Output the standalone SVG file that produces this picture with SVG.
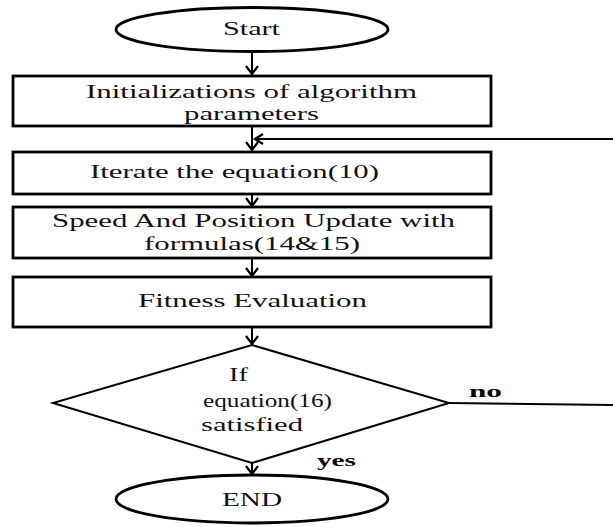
<svg xmlns="http://www.w3.org/2000/svg" width="613" height="527" viewBox="0 0 613 527">
  <style>
    .shape { fill: #ffffff; stroke: #000000; stroke-width: 2.8; }
    .thin { fill: #ffffff; stroke: #000000; stroke-width: 2; }
    text { font-family: "Liberation Serif", "Times New Roman", Times, "DejaVu Serif", "Noto Serif", serif; fill: #111111; }
    .label { font-size: 18px; }
    .tag { font-size: 17px; font-weight: bold; fill: #000000; }
    .wire { fill: none; stroke: #000000; stroke-width: 2; }
    .head { fill: none; stroke: #000000; stroke-width: 2.2; stroke-linejoin: miter; }
  </style>
  <rect width="613" height="527" fill="#ffffff"/>

  <g id="start">
    <ellipse class="shape" cx="252" cy="29.5" rx="136" ry="22"/>
    <text class="label" x="223" y="35" textLength="57" lengthAdjust="spacingAndGlyphs">Start</text>
  </g>

  <g id="init">
    <rect class="shape" x="13" y="76" width="478" height="50"/>
    <text class="label" x="86" y="98" textLength="331" lengthAdjust="spacingAndGlyphs">Initializations of algorithm</text>
    <text class="label" x="184" y="120" textLength="135" lengthAdjust="spacingAndGlyphs">parameters</text>
  </g>

  <g id="iterate">
    <rect class="shape" x="13" y="152" width="478" height="42"/>
    <text class="label" x="90" y="178" textLength="289" lengthAdjust="spacingAndGlyphs">Iterate the equation(10)</text>
  </g>

  <g id="update">
    <rect class="shape" x="13" y="207" width="478" height="51"/>
    <text class="label" x="52" y="227" textLength="403" lengthAdjust="spacingAndGlyphs">Speed And Position Update with</text>
    <text class="label" x="144" y="250" textLength="216" lengthAdjust="spacingAndGlyphs">formulas(14&amp;15)</text>
  </g>

  <g id="fitness">
    <rect class="shape" x="13" y="277" width="478" height="50"/>
    <text class="label" x="138" y="307" textLength="229" lengthAdjust="spacingAndGlyphs">Fitness Evaluation</text>
  </g>

  <g id="decision">
    <polygon class="thin" points="252,345 449,403 252,463 53,403"/>
    <text class="label" x="229" y="381" textLength="19" lengthAdjust="spacingAndGlyphs">If</text>
    <text class="label" x="203" y="407" textLength="129" lengthAdjust="spacingAndGlyphs">equation(16)</text>
    <text class="label" x="201" y="431" textLength="102" lengthAdjust="spacingAndGlyphs">satisfied</text>
  </g>

  <g id="end">
    <ellipse class="shape" cx="252" cy="499" rx="136" ry="24"/>
    <text class="label" x="222" y="506" textLength="60" lengthAdjust="spacingAndGlyphs">END</text>
  </g>

  <g id="connectors">
    <!-- main flow, top to bottom -->
    <line class="wire" x1="252" y1="51" x2="252" y2="75"/>
    <polyline class="head" points="246,66 252,74 258,66"/>
    <line class="wire" x1="252" y1="126" x2="252" y2="151"/>
    <polyline class="head" points="246,142 252,150 258,142"/>
    <line class="wire" x1="252" y1="194" x2="252" y2="206"/>
    <polyline class="head" points="246,198 252,206 258,198"/>
    <line class="wire" x1="252" y1="258" x2="252" y2="276"/>
    <polyline class="head" points="246,268 252,276 258,268"/>
    <line class="wire" x1="252" y1="327" x2="252" y2="344"/>
    <polyline class="head" points="246,336 252,344 258,336"/>
    <line class="wire" x1="252" y1="463" x2="252" y2="474"/>
    <polyline class="head" points="246,466 252,474 258,466"/>
    <!-- "no" branch returning to the iteration step -->
    <line class="wire" x1="449" y1="403" x2="613" y2="405"/>
    <line class="wire" x1="613" y1="139" x2="255" y2="139"/>
    <polyline class="head" points="263,134 255,139 263,144"/>
    <text class="tag" x="469" y="397" textLength="33" lengthAdjust="spacingAndGlyphs">no</text>
    <text class="tag" x="317" y="466" textLength="39" lengthAdjust="spacingAndGlyphs">yes</text>
  </g>
</svg>
